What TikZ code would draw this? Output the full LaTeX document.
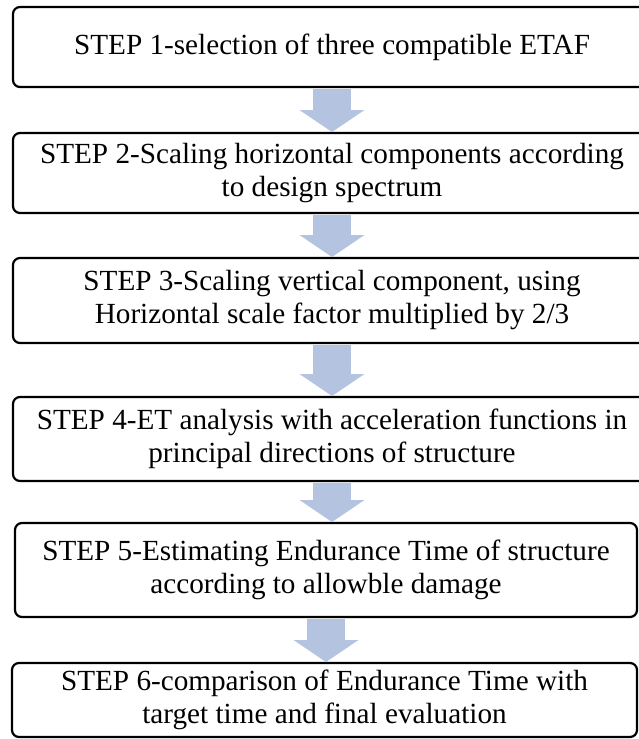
\documentclass[tikz,border=0pt]{standalone}
\usepackage{fontspec}
\setmainfont{Liberation Serif}
\usepackage{tikz}
\usetikzlibrary{arrows.meta,positioning}
\definecolor{flowblue}{RGB}{180,196,224}
\tikzstyle{stepbox} = [
    rectangle,
    rounded corners=7pt,
    minimum width=638pt,
    align=center,
    draw=black,
    line width=2.2pt,
    outer sep=0pt,
    inner sep=0pt,
    font=\fontsize{29.2}{33}\selectfont
]
\tikzstyle{flowarrow} = [
    line width=38pt,
    draw=flowblue,
    shorten <=1.5pt,
    shorten >=1pt,
    -{Triangle[width=65pt,length=22pt,line width=0pt]}
]

\begin{document}
\begin{tikzpicture}
    \useasboundingbox (0,0) rectangle (639pt,-739pt);
    \clip (0,0) rectangle (639pt,-739pt);

    \node[stepbox, minimum height=80pt] (s1) at (332pt,-47pt)
        {STEP 1-selection of three compatible ETAF};
    \node[stepbox, minimum height=80pt, below=46pt of s1] (s2)
        {STEP 2-Scaling horizontal components according\\to design spectrum};
    \node[stepbox, minimum height=85pt, below=45pt of s2] (s3)
        {STEP 3-Scaling vertical component, using\\Horizontal scale factor multiplied by 2/3};
    \node[stepbox, minimum height=84pt, below=54pt of s3] (s4)
        {STEP 4-ET analysis with acceleration functions in\\principal directions of structure};
    \node[stepbox, minimum width=622pt, minimum height=94pt, below=42pt of s4, xshift=-6pt] (s5)
        {STEP 5-Estimating Endurance Time of structure\\according to allowble damage};
    \node[stepbox, minimum width=625pt, minimum height=74pt, below=46pt of s5, xshift=-1.5pt] (s6)
        {STEP 6-comparison of Endurance Time with\\target time and final evaluation};

    \draw[flowarrow] (s1.south) -- (s1.south |- s2.north);
    \draw[flowarrow] (s2.south) -- (s2.south |- s3.north);
    \draw[flowarrow] (s3.south) -- (s3.south |- s4.north);
    \draw[flowarrow] (s4.south) -- (s4.south |- s5.north);
    \draw[flowarrow] (s5.south) -- (s5.south |- s6.north);
\end{tikzpicture}
\end{document}
